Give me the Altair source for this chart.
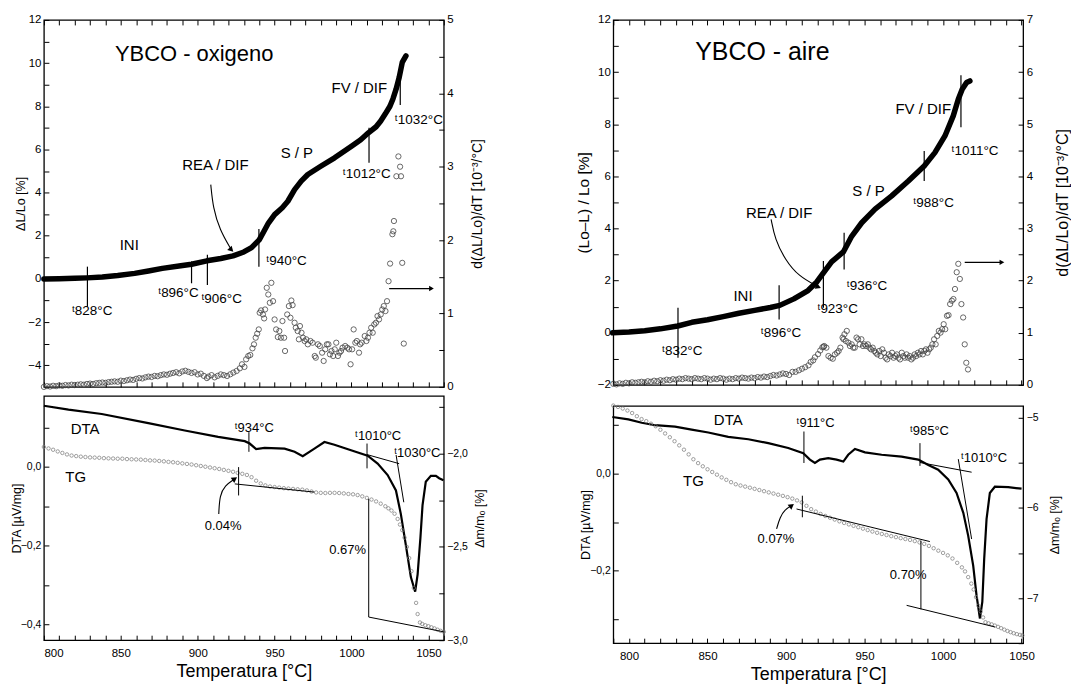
import altair as alt
import pandas as pd

FONT = "Liberation Sans"

# ---------------- tick values ----------------
ox_x_ticks = [800, 810, 820, 830, 840, 850, 860, 870, 880, 890, 900, 910, 920, 930, 940,
              950, 960, 970, 980, 990, 1000, 1010, 1020, 1030, 1040, 1050, 1060]
ai_x_ticks = [790, 800, 810, 820, 830, 840, 850, 860, 870, 880, 890, 900, 910, 920, 930,
              940, 950, 960, 970, 980, 990, 1000, 1010, 1020, 1030, 1040, 1050]
ox_yl_ticks = [-5, -4, -3, -2, -1, 0, 1, 2, 3, 4, 5, 6, 7, 8, 9, 10, 11, 12]
ox_yr_ticks = [0, 0.5, 1, 1.5, 2, 2.5, 3, 3.5, 4, 4.5, 5]
ai_yl_ticks = [-2, -1, 0, 1, 2, 3, 4, 5, 6, 7, 8, 9, 10, 11, 12]
ai_yr_ticks = [0, 0.5, 1, 1.5, 2, 2.5, 3, 3.5, 4, 4.5, 5, 5.5, 6, 6.5, 7]
ox_dta_ticks = [-0.4, -0.3, -0.2, -0.1, 0, 0.1]
ox_tg_ticks = [-3.0, -2.75, -2.5, -2.25, -2.0, -1.75]
ai_dta_ticks = [-0.3, -0.2, -0.1, 0, 0.1]
ai_tg_ticks = [-7.5, -7.0, -6.5, -6.0, -5.5, -5.0]

# ---------------- YBCO - oxigeno : dilatometry ----------------
ox_dil = [(800, 0.0), (810, 0.01), (820, 0.03), (828, 0.05), (838, 0.09), (848, 0.16), (859, 0.26),
          (868, 0.37), (877, 0.49), (889, 0.61), (896, 0.68), (906, 0.84), (915, 0.95), (923, 1.07),
          (930, 1.25), (935, 1.45), (940, 1.81), (943, 2.2), (946, 2.59), (950, 2.98), (955, 3.3),
          (958.6, 3.6), (963, 4.14), (967.3, 4.53), (971.6, 4.84), (980, 5.22), (989, 5.61),
          (1000, 6.15), (1006, 6.45), (1011, 6.77), (1016, 7.05), (1019, 7.32), (1022, 7.65),
          (1025, 8.0), (1027, 8.35), (1029, 8.79), (1031, 9.33), (1033, 10.03), (1035.4, 10.33)]

ox_der = [(800, 0.0), (802, 0.01), (804, 0.005), (806, 0.015), (808, 0.01), (810, 0.02), (812, 0.015),
          (814, 0.025), (816, 0.02), (818, 0.03), (820, 0.025), (822, 0.03), (824, 0.035), (826, 0.03),
          (828, 0.04), (830, 0.045), (832, 0.04), (834, 0.05), (836, 0.055), (838, 0.06), (840, 0.055),
          (842, 0.065), (844, 0.07), (846, 0.075), (848, 0.07), (850, 0.085), (852, 0.08), (854, 0.09),
          (856, 0.1), (858, 0.095), (860, 0.11), (862, 0.12), (864, 0.115), (866, 0.13), (868, 0.14),
          (870, 0.135), (872, 0.15), (874, 0.145), (876, 0.16), (878, 0.17), (880, 0.165), (882, 0.18),
          (884, 0.19), (886, 0.2), (888, 0.185), (890, 0.21), (892, 0.22), (894, 0.205), (896, 0.19),
          (898, 0.2), (900, 0.17), (902, 0.18), (904, 0.15), (906, 0.12), (907, 0.14), (909, 0.16),
          (911, 0.13), (913, 0.15), (915, 0.17), (917, 0.16),
          (919.1, 0.149), (921.2, 0.172), (923.2, 0.195), (925.3, 0.217), (927.4, 0.253), (928.8, 0.308),
          (930.4, 0.272), (931.5, 0.376), (932.9, 0.421), (934.2, 0.435), (935.6, 0.525), (936.6, 0.58),
          (937.7, 0.67), (938.7, 0.725), (939.7, 0.783), (940.3, 1.01), (941.2, 1.042), (942.4, 0.987),
          (943.2, 0.933), (943.8, 1.055), (944.9, 1.35), (945.9, 1.259), (946.9, 1.146), (947.9, 1.418),
          (949.0, 1.168), (950.0, 0.919), (951.0, 0.783), (952.1, 0.679), (953.1, 0.761), (954.1, 0.67),
          (955.1, 0.897), (956.2, 0.67), (956.8, 0.489), (958.2, 0.987), (959.3, 1.101), (960.3, 0.942),
          (960.9, 1.177), (961.7, 1.114), (963.0, 0.874), (963.8, 0.806), (965.0, 0.761), (965.8, 0.648),
          (966.5, 0.829), (967.5, 0.738), (968.5, 0.67), (969.5, 0.625), (970.6, 0.648), (971.6, 0.58),
          (973.3, 0.625), (974.7, 0.602), (976.1, 0.421), (976.8, 0.398), (978.2, 0.58), (979.4, 0.557),
          (980.9, 0.466), (981.9, 0.353), (982.9, 0.512), (984.0, 0.58), (985.0, 0.58), (986.0, 0.444),
          (987.0, 0.489), (988.1, 0.421), (989.1, 0.512), (990.1, 0.602), (991.2, 0.421), (992.2, 0.466),
          (993.2, 0.489), (994.2, 0.534), (995.9, 0.557), (997.3, 0.534), (998.4, 0.512), (999.4, 0.308),
          (1000.4, 0.512), (1001.4, 0.783), (1002.5, 0.602), (1003.5, 0.625), (1004.9, 0.466),
          (1005.6, 0.58), (1006.6, 0.602), (1008.6, 0.693), (1009.7, 0.625), (1010.7, 0.67),
          (1011.7, 0.738), (1012.8, 0.806), (1013.8, 0.738), (1014.8, 0.851), (1015.9, 0.874),
          (1016.9, 0.965), (1017.9, 0.919), (1019.0, 0.987), (1020.0, 1.055), (1021.0, 1.101),
          (1022.1, 1.033), (1023.1, 1.168), (1024.1, 1.44), (1025.1, 1.68), (1026.6, 2.08),
          (1027.2, 2.12), (1027.6, 2.26), (1029.2, 2.87), (1030.5, 3.14), (1031.6, 3.0), (1032.2, 2.87),
          (1033.0, 1.69), (1034.0, 0.59)]

ox_dta = [(800, 0.155), (816, 0.145), (837.6, 0.134), (867.9, 0.111), (891.6, 0.092), (913.3, 0.076),
          (930.6, 0.065), (933.8, 0.059), (938, 0.045), (943.5, 0.048), (956.5, 0.046), (963, 0.038),
          (968.3, 0.027), (975.9, 0.046), (982.4, 0.063), (988.9, 0.056), (999.7, 0.042),
          (1010.5, 0.028), (1017, 0.008), (1023.5, -0.021), (1028.9, -0.06), (1032.1, -0.12),
          (1035.4, -0.2), (1038.6, -0.28), (1041.4, -0.317), (1043, -0.273), (1044.8, -0.181),
          (1046.2, -0.097), (1048.3, -0.038), (1051.6, -0.023), (1054.9, -0.023), (1057, -0.029),
          (1059.8, -0.034)]

ox_tg = [(800, -1.964), (803, -1.972), (806, -1.979), (809, -1.988), (812, -1.996), (815, -2.004),
         (818, -2.01), (821, -2.013), (824, -2.016), (827, -2.018), (830, -2.02), (833, -2.021),
         (836, -2.022), (839, -2.024), (842, -2.025), (845, -2.026), (848, -2.027), (851, -2.027),
         (854, -2.029), (857, -2.03), (860, -2.031), (863, -2.032), (866, -2.034), (869, -2.036),
         (872, -2.037), (875, -2.039), (878, -2.041), (881, -2.044), (884, -2.046), (887, -2.049),
         (890, -2.052), (893, -2.055), (896, -2.058), (899, -2.062), (902, -2.066), (905, -2.07),
         (908, -2.074), (911, -2.078), (914, -2.082), (917, -2.087), (920, -2.092), (923, -2.097),
         (926, -2.103), (929, -2.108), (932, -2.114), (935, -2.126), (938, -2.145), (941, -2.16),
         (944, -2.17), (947, -2.176), (950, -2.179), (953, -2.182), (956, -2.185), (959, -2.187),
         (962, -2.189), (965, -2.191), (968, -2.193), (971, -2.197), (974, -2.203), (977, -2.208),
         (980, -2.21), (983, -2.211), (986, -2.21), (989, -2.21), (992, -2.211), (995, -2.213),
         (998, -2.216), (1001, -2.218), (1004, -2.222), (1007, -2.229), (1010, -2.237), (1013, -2.246),
         (1016, -2.256), (1019, -2.268), (1022, -2.282), (1024, -2.293), (1026, -2.305), (1028, -2.322),
         (1030, -2.35), (1031.5, -2.38), (1033, -2.41), (1034.5, -2.45), (1036, -2.5), (1037.5, -2.56),
         (1039, -2.63), (1040.5, -2.72), (1042, -2.8), (1043, -2.86), (1044.5, -2.905), (1046, -2.913),
         (1048, -2.92), (1050, -2.925), (1052, -2.931), (1054, -2.937), (1056, -2.944), (1058, -2.95),
         (1060, -2.955)]

# annotations (oxigeno, dilatometry panel, left axis units)
ox_top_marks = [(828.3, 0.57, 828.3, -1.29), (896, 0.81, 896, -0.2), (906.3, 1.12, 906.3, -0.28),
                (939.8, 2.31, 939.8, 0.57), (1011.4, 7.01, 1011.4, 5.38), (1031.7, 9.26, 1031.7, 8.06)]
ox_top_labels = [("ᵗ828°C", 818.2, -1.49), ("ᵗ896°C", 874.3, -0.67), ("ᵗ906°C", 902.4, -0.95),
                 ("ᵗ940°C", 944.6, 0.84), ("ᵗ1012°C", 994.3, 4.87), ("ᵗ1032°C", 1028.2, 7.35)]
ox_top_zones = [("REA / DIF", 911.5, 5.3), ("S / P", 964.5, 5.84), ("INI", 855.5, 1.58),
                ("FV / DIF", 1005.1, 8.84)]
ox_top_title = [("YBCO - oxigeno", 846.2, 10.42)]
ox_top_curve = [(908.5, 4.37), (910, 3.29), (914.3, 2.28), (921.9, 1.35)]
ox_top_harrow = (1024.5, 1.34, 1052, 1.34)   # right axis units

# annotations (oxigeno, DTA/TG panel)
ox_bot_marks_dta = [(933.3, 0.088, 933.3, 0.038), (1010.1, 0.059, 1010.1, -0.004),
                    (1010.1, 0.031, 1031.0, 0.008), (1029.0, 0.03, 1034.0, -0.09)]
ox_bot_marks_tg = [(926.6, -2.072, 926.6, -2.224), (924.1, -2.162, 975.9, -2.206),
                   (1011.2, -2.242, 1011.2, -2.876), (1011.2, -2.876, 1059.8, -2.955)]
ox_bot_labels = [("ᵗ934°C", 924.1, 0.098), ("ᵗ1010°C", 1002.3, 0.077), ("ᵗ1030°C", 1027.8, 0.035)]
ox_bot_names = [("DTA", 826.8, 0.097), ("TG", 820.7, -0.025)]
ox_bot_pct = [("0.04%", 916.5, -0.151), ("0.67%", 997.5, -0.21)]
ox_bot_curve = [(913.7, -2.323), (914.3, -2.224), (917.6, -2.171), (924.1, -2.135)]

# ---------------- YBCO - aire ----------------
ai_dil = [(789.6, 0.0), (800, 0.03), (810, 0.08), (820, 0.15), (831, 0.26), (840, 0.4), (850, 0.5),
          (860, 0.62), (870, 0.75), (880, 0.86), (890, 0.97), (896, 1.05), (905, 1.3), (914, 1.62),
          (919.6, 1.95), (923.8, 2.3), (929, 2.72), (936.5, 3.1), (941.8, 3.7), (948.2, 4.22),
          (956.7, 4.74), (967.3, 5.25), (977.9, 5.82), (988, 6.4), (994.8, 6.91), (1001.2, 7.55),
          (1006.5, 8.32), (1009.7, 8.96), (1012.2, 9.34), (1015, 9.6), (1017.1, 9.66)]

ai_der = [(790, 0.02), (792, 0.01), (794, 0.03), (796, 0.02), (798, 0.04), (800, 0.03), (802, 0.05),
          (804, 0.04), (806, 0.05), (808, 0.06), (810, 0.05), (812, 0.07), (814, 0.06), (816, 0.08),
          (818, 0.07), (820, 0.09), (822, 0.08), (824, 0.1), (826, 0.09), (828, 0.11), (830, 0.1),
          (832, 0.12), (834, 0.11), (836, 0.13), (838, 0.12), (840, 0.11), (842, 0.13), (844, 0.12),
          (846, 0.11), (848, 0.13), (850, 0.12), (852, 0.1), (854, 0.12), (856, 0.11), (858, 0.13),
          (860, 0.12), (862, 0.1), (864, 0.12), (866, 0.11), (868, 0.13), (870, 0.12), (872, 0.14),
          (874, 0.13), (876, 0.12), (878, 0.14), (880, 0.13), (882, 0.15), (884, 0.14), (886, 0.16),
          (888, 0.15), (890, 0.17), (892, 0.19), (894, 0.18), (896, 0.2), (898, 0.22), (900, 0.21),
          (902, 0.19), (904.1, 0.25), (906.1, 0.25), (908.2, 0.28), (910.2, 0.31), (912.2, 0.34),
          (914.3, 0.375), (915.7, 0.44), (917.3, 0.47), (918.4, 0.53), (920.4, 0.59), (921.8, 0.66),
          (923.1, 0.72), (923.9, 0.73),
          (924.3, 0.746), (925.7, 0.714), (927.0, 0.553), (928.4, 0.521), (929.8, 0.502), (931.1, 0.585),
          (932.5, 0.617), (933.5, 0.65), (934.6, 0.714), (936.0, 0.907), (937.2, 0.971), (938.7, 1.035),
          (936.6, 0.875), (938.1, 0.842), (939.7, 0.81), (940.7, 0.746), (941.8, 0.778), (942.8, 0.714),
          (943.8, 0.714), (944.9, 0.907), (945.9, 0.875), (946.9, 0.778), (948.0, 0.875), (949.0, 0.746),
          (950.0, 0.778), (951.0, 0.746), (952.1, 0.778), (953.1, 0.714), (954.1, 0.682), (955.2, 0.714),
          (956.2, 0.65), (957.2, 0.617), (958.2, 0.585), (959.3, 0.65), (960.3, 0.553), (961.3, 0.682),
          (962.4, 0.617), (963.4, 0.521), (964.4, 0.489), (965.4, 0.585), (966.5, 0.553), (967.5, 0.617),
          (968.5, 0.521), (969.6, 0.553), (970.6, 0.585), (971.6, 0.521), (972.6, 0.489), (973.7, 0.617),
          (974.7, 0.553), (975.7, 0.521), (976.8, 0.585), (977.8, 0.521), (978.8, 0.553), (979.8, 0.489),
          (980.9, 0.521), (981.9, 0.585), (982.9, 0.553), (984.0, 0.617), (985.0, 0.585), (986.0, 0.65),
          (987.1, 0.585), (988.1, 0.65), (989.1, 0.682), (990.1, 0.617), (991.2, 0.682), (992.2, 0.714),
          (993.2, 0.778), (994.3, 0.875), (995.3, 0.778), (996.3, 0.939), (997.3, 1.035), (998.4, 1.003),
          (999.4, 1.068), (1000.4, 1.164), (1001.4, 1.068), (1002.5, 1.325), (1003.5, 1.338),
          (1004.5, 1.55), (1005.6, 1.614), (1006.6, 1.646), (1007.6, 1.839), (1008.7, 2.161),
          (1009.7, 2.322), (1010.7, 2.032), (1011.7, 1.55), (1012.8, 1.293), (1013.8, 0.778),
          (1014.8, 0.424), (1015.9, 0.296)]

ai_dta = [(789.4, 0.117), (799.6, 0.112), (808.1, 0.105), (816.6, 0.1), (829.3, 0.097), (839.9, 0.091),
          (850.5, 0.085), (863.2, 0.076), (876, 0.071), (888.7, 0.063), (901.4, 0.053), (911, 0.042),
          (915.2, 0.029), (918.4, 0.022), (921.6, 0.029), (926.9, 0.032), (932.2, 0.029), (936.5, 0.025),
          (939.6, 0.039), (943.9, 0.051), (950.3, 0.044), (960.9, 0.039), (973.6, 0.035), (984.2, 0.029),
          (990.6, 0.018), (996.9, 0.008), (1003.3, -0.012), (1008.6, -0.04), (1012.9, -0.081),
          (1016, -0.128), (1019.2, -0.19), (1021.3, -0.251), (1023.5, -0.299), (1025, -0.265),
          (1026.2, -0.176), (1027.7, -0.094), (1029.8, -0.04), (1033, -0.027), (1041.5, -0.028),
          (1050, -0.031)]

ai_tg = [(790, -4.867), (793, -4.882), (796, -4.9), (799, -4.922), (802, -4.95), (805, -4.985),
         (808, -5.017), (811, -5.04), (814, -5.068), (817, -5.096), (820, -5.135), (823, -5.176),
         (826, -5.218), (829, -5.262), (832, -5.308), (835, -5.356), (838, -5.408), (841, -5.462),
         (844, -5.505), (847, -5.54), (850, -5.573), (853, -5.603), (856, -5.633), (859, -5.663),
         (862, -5.69), (865, -5.716), (868, -5.739), (871, -5.753), (874, -5.765), (877, -5.777),
         (880, -5.79), (883, -5.803), (886, -5.816), (889, -5.829), (892, -5.842), (895, -5.855),
         (898, -5.868), (901, -5.882), (904, -5.898), (907, -5.918), (910, -5.94), (913, -5.978),
         (916, -6.015), (919, -6.042), (922, -6.068), (925, -6.09), (928, -6.11), (931, -6.13),
         (934, -6.15), (937, -6.168), (940, -6.184), (943, -6.2), (946, -6.215), (949, -6.231),
         (952, -6.247), (955, -6.263), (958, -6.277), (961, -6.29), (964, -6.302), (967, -6.314),
         (970, -6.325), (973, -6.336), (976, -6.346), (979, -6.356), (982, -6.369), (985, -6.383),
         (988, -6.4), (991, -6.422), (994, -6.448), (997, -6.475), (1000, -6.5), (1003, -6.527),
         (1006, -6.562), (1009, -6.61), (1012, -6.66), (1014, -6.705), (1016, -6.768), (1018, -6.84),
         (1019.5, -6.905), (1021, -6.99), (1022.5, -7.085), (1024, -7.15), (1025.5, -7.215),
         (1027, -7.268), (1029, -7.28), (1031, -7.292), (1033, -7.305), (1035, -7.319), (1037, -7.334),
         (1039, -7.35), (1041, -7.365), (1043, -7.378), (1045, -7.39), (1047, -7.4), (1049, -7.408),
         (1050.5, -7.414)]

ai_top_marks = [(831.2, 0.96, 831.2, -0.96), (895.6, 1.82, 895.6, 0.51), (923.8, 2.75, 923.8, 0.96),
                (937, 3.84, 937, 2.43), (988, 6.97, 988, 5.82), (1011.4, 9.88, 1011.4, 7.88)]
ai_top_labels = [("ᵗ832°C", 821, -0.7), ("ᵗ896°C", 883.9, 0.0), ("ᵗ923°C", 920, 0.9),
                 ("ᵗ936°C", 938.7, 1.8), ("ᵗ988°C", 981.1, 4.99), ("ᵗ1011°C", 1005.4, 6.97)]
ai_top_zones = [("REA / DIF", 895.6, 4.6), ("S / P", 952.5, 5.44), ("INI", 872.6, 1.41),
                ("FV / DIF", 987.4, 8.57)]
ai_top_title = [("YBCO - aire", 842.2, 10.75)]
ai_top_curve = [(890.5, 4.35), (893, 3.58), (899.4, 2.81), (907.9, 2.17), (920.6, 1.76)]
ai_top_harrow = (1013.8, 2.35, 1037.5, 2.35)   # right axis units

ai_bot_marks_dta = [(911.4, 0.087, 911.4, 0.022), (985.3, 0.063, 985.3, 0.016),
                    (985.3, 0.023, 1018.2, 0.003), (1009.7, 0.03, 1018.2, -0.135)]
ai_bot_marks_tg = [(910.4, -5.866, 910.4, -6.105), (906.7, -6.013, 991.6, -6.374),
                   (985.9, -6.363, 985.9, -7.125), (976.8, -7.081, 1033, -7.32)]
ai_bot_labels = [("ᵗ911°C", 906.7, 0.105), ("ᵗ985°C", 978.9, 0.089), ("ᵗ1010°C", 1011.4, 0.032)]
ai_bot_names = [("DTA", 863.2, 0.11), ("TG", 841, -0.016)]
ai_bot_pct = [("0.07%", 893.6, -0.135), ("0.70%", 977.8, -0.209)]
ai_bot_curve = [(894, -6.234), (896.1, -6.105), (899.3, -6.02), (903.6, -5.976)]

# ---------------- helpers ----------------
AXC = dict(offset=-5, domain=False, ticks=True, tickSize=5, tickColor="black", tickWidth=1,
           grid=False, labelFont=FONT, labelColor="black", titleFont=FONT, titleColor="black",
           titleFontWeight="normal")


def yaxis(orient, vals, expr, title, ext, tpad, tfs=12.5, lfs=10.5):
    extra = dict(titleAngle=270, titleBaseline="top") if orient == "right" else {}
    return alt.Axis(orient=orient, values=vals, labelExpr=expr, title=title, labelFontSize=lfs,
                    labelPadding=3, minExtent=ext, maxExtent=ext, titlePadding=tpad,
                    titleFontSize=tfs, **extra, **AXC)


def xaxis(orient, vals, labels):
    if labels:
        return alt.Axis(orient=orient, values=vals,
                        labelExpr="datum.value % 50 == 0 ? format(datum.value, 'd') : ''",
                        labelFontSize=11.5, labelPadding=7, title="Temperatura  [°C]",
                        titleFontSize=18, titlePadding=4, **AXC)
    return alt.Axis(orient=orient, values=vals, labels=False, title=None, **AXC)


def sc(dom):
    return alt.Scale(domain=dom, nice=False, zero=False)


def xy(df_x, df_y, xs, xa, ys, ya):
    return dict(x=alt.X(df_x, type="quantitative", scale=xs, axis=xa),
                y=alt.Y(df_y, type="quantitative", scale=ys, axis=ya))


def segs(rows, xs, xa, ys, ya, w=1.1):
    df = pd.DataFrame(rows, columns=["x1", "y1", "x2", "y2"])
    return alt.Chart(df).mark_rule(color="black", strokeWidth=w).encode(
        x2="x2:Q", y2="y2:Q", **xy("x1", "y1", xs, xa, ys, ya))


def texts(rows, xs, xa, ys, ya, size, align):
    df = pd.DataFrame(rows, columns=["t", "T", "v"])
    return alt.Chart(df).mark_text(font=FONT, fontSize=size, align=align, baseline="middle",
                                   color="black").encode(text="t:N", **xy("T", "v", xs, xa, ys, ya))


def curve(rows, angle, xs, xa, ys, ya):
    df = pd.DataFrame(rows, columns=["T", "v"])
    df["o"] = list(range(len(df)))
    line = alt.Chart(df).mark_line(color="black", strokeWidth=1.1, interpolate="basis").encode(
        order="o:Q", **xy("T", "v", xs, xa, ys, ya))
    head = alt.Chart(df.tail(1)).mark_point(shape="triangle-up", filled=True, color="black",
                                            opacity=1, size=40, angle=angle).encode(
        **xy("T", "v", xs, xa, ys, ya))
    return [line, head]


def top_panel(xdom, xt, ldom, lt, lexpr, ltitle, lext, ltp, ltfs, rdom, rt, rtitle, rext, rtp, rtfs,
              w, h, dil, der, marks, labels, zones, title, title_fs, crv, cang, harrow):
    xs, yl, yr = sc(xdom), sc(ldom), sc(rdom)
    xab, xat = xaxis("bottom", xt, False), xaxis("top", xt, False)
    yal = yaxis("left", lt, lexpr, ltitle, lext, ltp, ltfs, 11.5)
    yar = yaxis("right", rt, "datum.value % 1 == 0 ? format(datum.value, 'd') : ''", rtitle, rext, rtp,
                rtfs, 11.5)
    dildf = pd.DataFrame(dil, columns=["T", "v"])
    left = alt.layer(
        alt.Chart(dildf).mark_line(color="black", strokeWidth=5.5, strokeCap="round",
                                   strokeJoin="round").encode(**xy("T", "v", xs, xab, yl, yal)),
        segs(marks, xs, xab, yl, yal, 1.2),
        texts(labels, xs, xab, yl, yal, 13.5, "left"),
        texts(zones, xs, xab, yl, yal, 15, "center"),
        texts(title, xs, xab, yl, yal, title_fs, "left"),
        *curve(crv, cang, xs, xab, yl, yal))
    derdf = pd.DataFrame(der, columns=["T", "v"])
    headdf = pd.DataFrame([{"T": harrow[2], "v": harrow[3]}])
    right = alt.layer(
        alt.Chart(derdf).mark_point(shape="circle", filled=False, size=28, color="#444",
                                    strokeWidth=0.8, opacity=1).encode(**xy("T", "v", xs, xat, yr, yar)),
        segs([harrow], xs, xat, yr, yar, 1.2),
        alt.Chart(headdf).mark_point(shape="triangle-right", filled=True, color="black", opacity=1,
                                     size=30).encode(**xy("T", "v", xs, xat, yr, yar)))
    return (alt.layer(left, right).resolve_scale(y="independent").resolve_axis(x="independent")
            .properties(width=w, height=h))


def bot_panel(xdom, xt, ldom, lt, lexpr, lext, ltp, rdom, rt, rexpr, rext, rtp, w, h,
              dta, tg, marks_dta, marks_tg, labels, names, pct, crv, cang):
    xs, yl, yr = sc(xdom), sc(ldom), sc(rdom)
    xa = xaxis("bottom", xt, True)
    yal = yaxis("left", lt, lexpr, "DTA [µV/mg]", lext, ltp)
    yar = yaxis("right", rt, rexpr, "Δm/mₒ  [%]", rext, rtp)
    dtadf = pd.DataFrame(dta, columns=["T", "v"])
    left = alt.layer(
        alt.Chart(dtadf).mark_line(color="black", strokeWidth=2.2).encode(**xy("T", "v", xs, xa, yl, yal)),
        segs(marks_dta, xs, xa, yl, yal, 1.0),
        texts(labels, xs, xa, yl, yal, 13, "left"),
        texts(names, xs, xa, yl, yal, 15, "center"),
        texts(pct, xs, xa, yl, yal, 13, "center"))
    tgdf = pd.DataFrame(tg, columns=["T", "v"])
    right = alt.layer(
        alt.Chart(tgdf).mark_point(shape="circle", filled=False, size=12, color="#777",
                                   strokeWidth=0.7, opacity=1).encode(**xy("T", "v", xs, xa, yr, yar)),
        segs(marks_tg, xs, xa, yr, yar, 1.0),
        *curve(crv, cang, xs, xa, yr, yar))
    return alt.layer(left, right).resolve_scale(y="independent").properties(width=w, height=h)


DTA_EXPR = "abs(round(datum.value*10)) % 2 == 0 ? replace(format(datum.value, '.1f'), '.', ',') : ''"
EVEN_EXPR = "datum.value % 2 == 0 ? format(datum.value, 'd') : ''"
DERIV_TITLE = "d(ΔL/Lo)/dT  [10⁻³/°C]"

ox_top = top_panel([800, 1060], ox_x_ticks, [-5, 12], ox_yl_ticks, EVEN_EXPR, "ΔL/Lo  [%]", 21, 0, 12.5,
                   [0, 5], ox_yr_ticks, DERIV_TITLE, 31, 1, 14, 401, 368,
                   ox_dil, ox_der, ox_top_marks, ox_top_labels, ox_top_zones, ox_top_title, 22,
                   ox_top_curve, 135, ox_top_harrow)
ox_bot = bot_panel([800, 1060], ox_x_ticks, [-0.44, 0.18], ox_dta_ticks, DTA_EXPR, 24, 1,
                   [-3.0, -1.69], ox_tg_ticks,
                   "abs(round(datum.value*4)) % 2 == 0 ? replace(format(datum.value, '.1f'), '.', ',') : ''",
                   34, 1, 401, 245, ox_dta, ox_tg, ox_bot_marks_dta, ox_bot_marks_tg,
                   ox_bot_labels, ox_bot_names, ox_bot_pct, ox_bot_curve, 56)

ai_top = top_panel([790, 1051], ai_x_ticks, [-2, 12], ai_yl_ticks, EVEN_EXPR, "(Lo–L) / Lo [%]", 26, 1, 15.5,
                   [0, 7], ai_yr_ticks, DERIV_TITLE, 35, 1, 16, 411, 366,
                   ai_dil, ai_der, ai_top_marks, ai_top_labels, ai_top_zones, ai_top_title, 25,
                   ai_top_curve, 112, ai_top_harrow)
ai_bot = bot_panel([790, 1051], ai_x_ticks, [-0.35, 0.14], ai_dta_ticks, DTA_EXPR, 25, 1,
                   [-7.5, -4.87], ai_tg_ticks,
                   "datum.value % 1 == 0 ? format(datum.value, 'd') : ''",
                   29, 1, 411, 238, ai_dta, ai_tg, ai_bot_marks_dta, ai_bot_marks_tg,
                   ai_bot_labels, ai_bot_names, ai_bot_pct, ai_bot_curve, 53)

left_col = alt.vconcat(ox_top, ox_bot, spacing=1)
right_col = alt.vconcat(ai_top, ai_bot, spacing=9)

chart = (alt.hconcat(left_col, right_col, spacing=88)
         .properties(padding={"left": 2, "top": 4, "right": 0, "bottom": 2}, background="white")
         .configure_view(stroke="black", strokeWidth=1.3))

chart.save("out.html", embed_options={"renderer": "svg", "actions": False})
